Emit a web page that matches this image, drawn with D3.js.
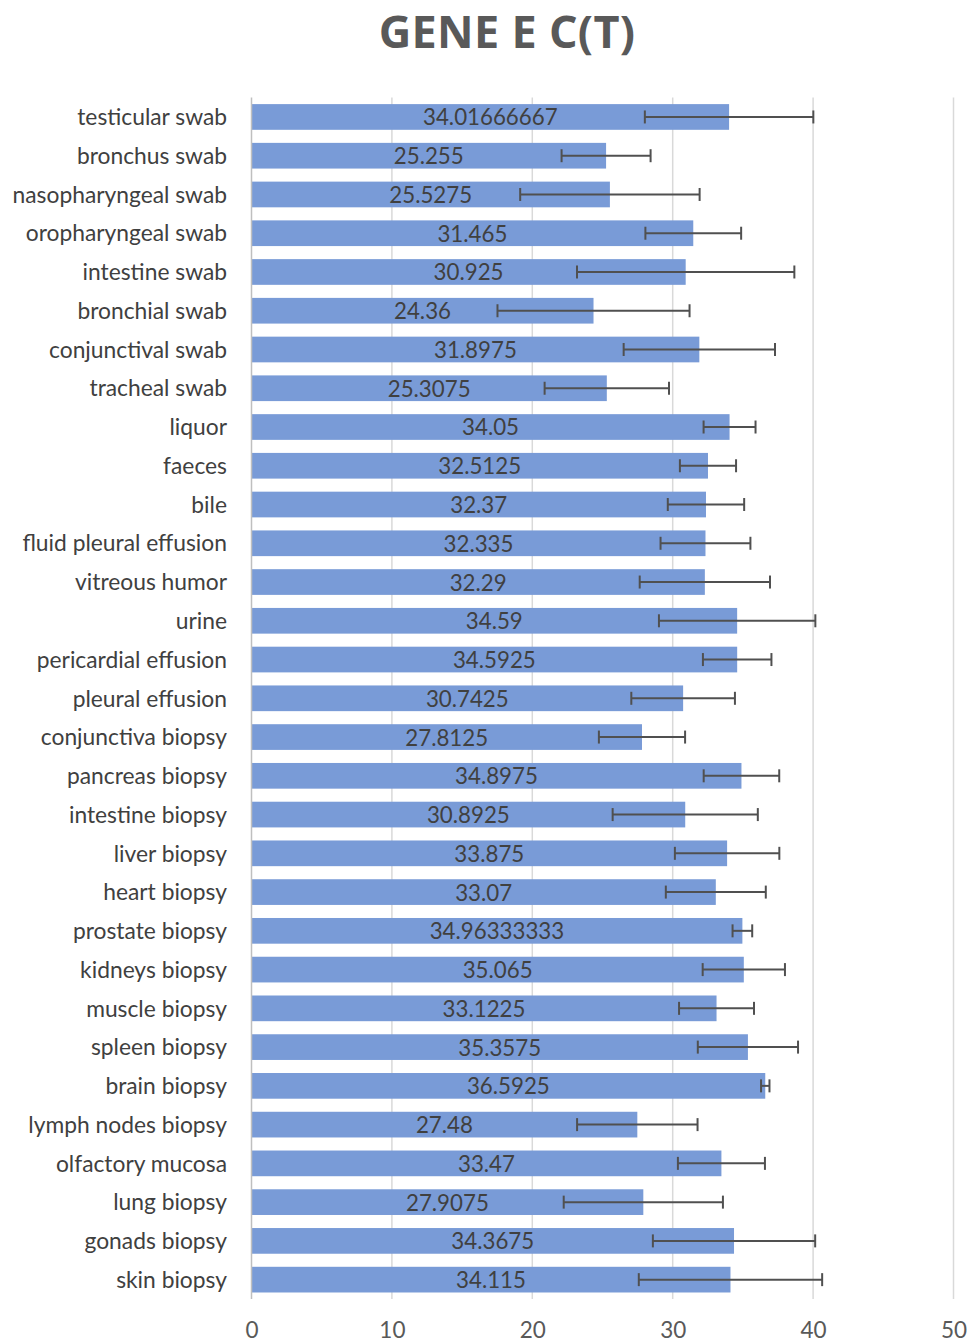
<!DOCTYPE html>
<html>
<head>
<meta charset="utf-8">
<script src="https://cdn.jsdelivr.net/npm/d3@7"></script>
<style>
  html, body { margin: 0; padding: 0; background: #fff; }
  svg { display: block; }
</style>
</head>
<body>
<svg id="chart" width="979" height="1342"></svg>
<script>
const categories = [
  "testicular swab", "bronchus swab", "nasopharyngeal swab", "oropharyngeal swab",
  "intestine swab", "bronchial swab", "conjunctival swab", "tracheal swab",
  "liquor", "faeces", "bile", "fluid pleural effusion", "vitreous humor", "urine",
  "pericardial effusion", "pleural effusion", "conjunctiva biopsy", "pancreas biopsy",
  "intestine biopsy", "liver biopsy", "heart biopsy", "prostate biopsy",
  "kidneys biopsy", "muscle biopsy", "spleen biopsy", "brain biopsy",
  "lymph nodes biopsy", "olfactory mucosa", "lung biopsy", "gonads biopsy", "skin biopsy"
];
const values = [
  34.01666667, 25.255, 25.5275, 31.465, 30.925, 24.36, 31.8975, 25.3075,
  34.05, 32.5125, 32.37, 32.335, 32.29, 34.59, 34.5925, 30.7425,
  27.8125, 34.8975, 30.8925, 33.875, 33.07, 34.96333333, 35.065, 33.1225,
  35.3575, 36.5925, 27.48, 33.47, 27.9075, 34.3675, 34.115
];
const valueLabels = [
  "34.01666667", "25.255", "25.5275", "31.465", "30.925", "24.36", "31.8975", "25.3075",
  "34.05", "32.5125", "32.37", "32.335", "32.29", "34.59", "34.5925", "30.7425",
  "27.8125", "34.8975", "30.8925", "33.875", "33.07", "34.96333333", "35.065", "33.1225",
  "35.3575", "36.5925", "27.48", "33.47", "27.9075", "34.3675", "34.115"
];
// standard deviations (error bars, symmetric)
const errors = [
  6.0, 3.17, 6.39, 3.41, 7.74, 6.84, 5.39, 4.43,
  1.85, 2.0, 2.72, 3.2, 4.64, 5.57, 2.44, 3.69,
  3.07, 2.69, 5.17, 3.72, 3.56, 0.7, 2.93, 2.67,
  3.57, 0.3, 4.29, 3.1, 5.67, 5.78, 6.53
];
const xTicks = [0, 10, 20, 30, 40, 50];
const title = "GENE E C(T)";

const svg = d3.select("#chart");
const x = d3.scaleLinear().domain([0, 50]).range([251.5, 953.5]);
const y = d3.scaleBand().domain(categories).range([97.6, 1299]).paddingInner(0.337).paddingOuter(0.168);
const FONT = "Lato, 'Open Sans', sans-serif";

// gridlines
svg.append("g").selectAll("line").data(xTicks.filter(t => t > 0)).join("line")
  .attr("x1", d => x(d)).attr("x2", d => x(d))
  .attr("y1", 97.6).attr("y2", 1299)
  .attr("stroke", "#d9d9d9").attr("stroke-width", 1.5);

// bars
svg.append("g").selectAll("rect").data(categories).join("rect")
  .attr("x", x(0))
  .attr("y", d => y(d))
  .attr("width", (d, i) => x(values[i]) - x(0))
  .attr("height", y.bandwidth())
  .attr("fill", "#799bd7");

// axis line
svg.append("line")
  .attr("x1", x(0)).attr("x2", x(0)).attr("y1", 97.6).attr("y2", 1299)
  .attr("stroke", "#bfbfbf").attr("stroke-width", 1.5);

// value labels
svg.append("g").selectAll("text").data(categories).join("text")
  .attr("x", (d, i) => (x(0) + x(values[i])) / 2)
  .attr("y", d => y(d) + y.bandwidth() / 2)
  .attr("dy", "0.38em")
  .attr("text-anchor", "middle")
  .attr("font-family", FONT)
  .attr("font-size", 22.3)
  .attr("fill", "#404040")
  .text((d, i) => valueLabels[i]);

// error bars
const eg = svg.append("g").attr("stroke", "#505050").attr("stroke-width", 2).attr("fill", "none");
categories.forEach((c, i) => {
  const cy = y(c) + y.bandwidth() / 2;
  const lo = x(values[i] - errors[i]), hi = x(values[i] + errors[i]);
  eg.append("line").attr("x1", lo).attr("x2", hi).attr("y1", cy).attr("y2", cy);
  eg.append("line").attr("x1", lo).attr("x2", lo).attr("y1", cy - 6.5).attr("y2", cy + 6.5);
  eg.append("line").attr("x1", hi).attr("x2", hi).attr("y1", cy - 6.5).attr("y2", cy + 6.5);
});

// category labels
svg.append("g").selectAll("text").data(categories).join("text")
  .attr("x", 227)
  .attr("y", d => y(d) + y.bandwidth() / 2)
  .attr("dy", "0.36em")
  .attr("text-anchor", "end")
  .attr("font-family", FONT)
  .attr("font-size", 22.8)
  .attr("fill", "#404040")
  .text(d => d);

// x axis tick labels
const xAxis = d3.axisBottom(x).tickValues(xTicks).tickSize(0).tickPadding(0);
const ax = svg.append("g").attr("transform", "translate(0,1338)").call(xAxis);
ax.select(".domain").remove();
ax.selectAll("text")
  .attr("font-family", FONT)
  .attr("font-size", 22.5)
  .attr("fill", "#595959")
  .attr("y", 0)
  .attr("dy", 0);

// title
svg.append("text")
  .attr("x", 507).attr("y", 48)
  .attr("text-anchor", "middle")
  .attr("font-family", "'Open Sans', Lato, sans-serif")
  .attr("font-weight", "bold")
  .attr("font-size", 45)
  .attr("letter-spacing", 0.3)
  .attr("fill", "#595959")
  .text(title);
</script>
</body>
</html>
